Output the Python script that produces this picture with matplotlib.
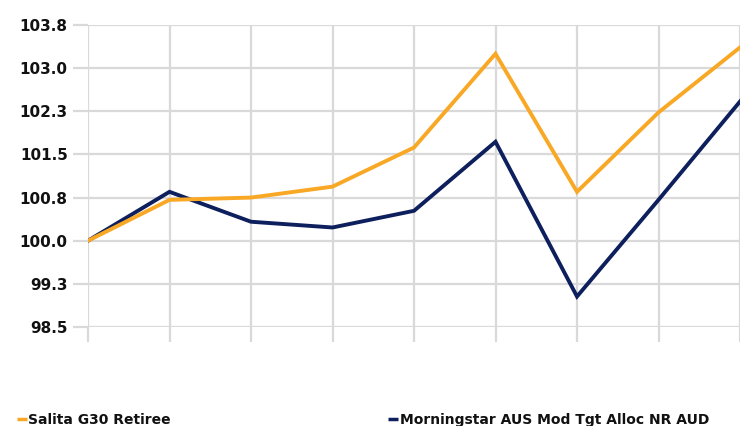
import matplotlib
matplotlib.use("Agg")
import matplotlib.pyplot as plt
from matplotlib.lines import Line2D

periods = list(range(9))
salita = [100.0, 100.71, 100.75, 100.94, 101.62, 103.25, 100.85, 102.23, 103.36]
morningstar = [100.0, 100.85, 100.33, 100.23, 100.52, 101.72, 99.03, 100.71, 102.42]
series_names = ["Salita G30 Retiree", "Morningstar AUS Mod Tgt Alloc NR AUD"]
colors = ["#F9A825", "#0D1F5C"]
yticks = [98.5, 99.25, 100.0, 100.75, 101.5, 102.25, 103.0, 103.75]
ytick_labels = ["98.5", "99.3", "100.0", "100.8", "101.5", "102.3", "103.0", "103.8"]

W, H = 740, 426
fig = plt.figure(figsize=(W / 100, H / 100), dpi=100)
ax = fig.add_axes([88 / W, 1 - 327 / H, (W - 88) / W, (327 - 25) / H])

grid_c = "#D9D9D9"
ax.plot(periods, morningstar, color=colors[1], lw=2.8, solid_joinstyle="miter", zorder=3)
ax.plot(periods, salita, color=colors[0], lw=2.8, solid_joinstyle="miter", zorder=4)

ax.set_xlim(0, 8)
ax.set_ylim(98.5, 103.75)
ax.set_yticks(yticks)
ax.set_yticklabels(ytick_labels)
ax.set_xticks(periods)
ax.set_xticklabels([])
ax.grid(True, color=grid_c, lw=1.6)
for s in ax.spines.values():
    s.set_visible(False)
ax.tick_params(axis="both", color=grid_c, width=1.6, length=11, pad=3.6)
for lab in ax.get_yticklabels():
    lab.set_fontfamily("DejaVu Sans")
    lab.set_fontweight("bold")
    lab.set_fontsize(11)
    lab.set_color("#111111")

leg_marker_x = [17, 388]
leg_text_x = [28, 400]
for mx, tx, name, c in zip(leg_marker_x, leg_text_x, series_names, colors):
    my = 1 - 418.5 / H
    fig.add_artist(Line2D([mx / W, (mx + 10) / W], [my, my], color=c, lw=2.5,
                          solid_capstyle="butt", transform=fig.transFigure))
    fig.text(tx / W, 1 - 420 / H, name, fontsize=10, family="DejaVu Sans", fontweight="bold",
             va="center", ha="left", color="#111111")

fig.savefig("out.png", dpi=100)
